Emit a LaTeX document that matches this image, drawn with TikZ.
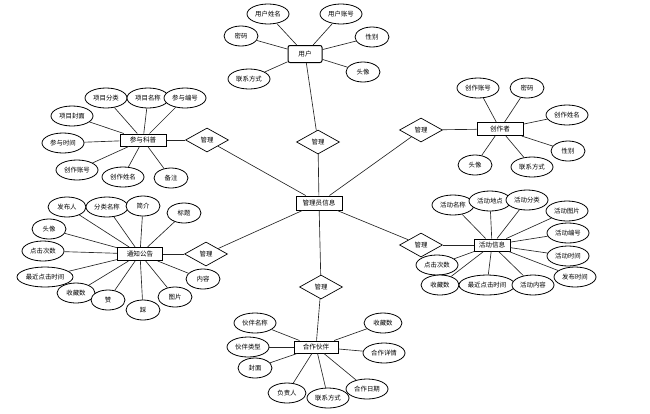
\documentclass[tikz,border=0pt]{standalone}
\usepackage{fontspec}
\setmainfont{Noto Sans CJK SC}
\usetikzlibrary{shapes.geometric}
\tikzset{
  attr/.style={ellipse,draw=black,line width=0.8pt,fill=white,minimum width=42pt,minimum height=20pt,inner sep=0pt,font=\fontsize{6.4}{7}\selectfont},
  shortattr/.style={attr,minimum width=34pt},
  midattr/.style={attr,minimum width=38pt},
  longattr/.style={attr,minimum width=56pt},
  ent/.style={rectangle,draw=black,line width=1pt,fill=white,minimum height=13pt,minimum width=44pt,inner sep=1pt,font=\fontsize{6.6}{7}\selectfont},
  rel/.style={diamond,draw=black,line width=0.7pt,fill=white,minimum width=43pt,minimum height=24pt,inner sep=0pt,font=\fontsize{6.4}{7}\selectfont},
  link/.style={draw=black!85,line width=0.65pt}
}
\begin{document}
\begin{tikzpicture}[x=1pt,y=-1pt]
\useasboundingbox (0,0) rectangle (650,413);
% centre
\node[ent,minimum width=46pt,minimum height=14pt] (a) at (319,203) {管理员信息};
% user
\node[ent,rounded corners=2pt,minimum width=34pt,minimum height=17pt] (u) at (305,54) {用户};
\node[attr] (u1) at (268,14) {用户姓名};
\node[attr] (u2) at (341,14) {用户账号};
\node[shortattr] (u3) at (241,36) {密码};
\node[shortattr] (u4) at (372,37) {性别};
\node[attr] (u5) at (249,79) {联系方式};
\node[shortattr] (u6) at (363,72) {头像};
\node[rel] (r1) at (318,142) {管理};
% creator
\node[ent,minimum width=46pt] (c) at (500,129) {创作者};
\node[rel] (r2) at (421,130) {管理};
\node[attr] (c1) at (478,88) {创作账号};
\node[shortattr] (c2) at (527,88) {密码};
\node[attr] (c3) at (567,115) {创作姓名};
\node[shortattr] (c4) at (568,151) {性别};
\node[shortattr] (c5) at (475,165) {头像};
\node[attr] (c6) at (532,167) {联系方式};
% science participation
\node[ent,minimum width=46pt,minimum height=12pt] (p) at (143,140) {参与科普};
\node[rel] (r3) at (207,140) {管理};
\node[attr] (p1) at (106,98) {项目分类};
\node[attr] (p2) at (148,98) {项目名称};
\node[attr] (p3) at (185,98) {参与编号};
\node[attr] (p4) at (72,116) {项目封面};
\node[attr] (p5) at (63,143) {参与时间};
\node[attr] (p6) at (77,170) {创作账号};
\node[attr] (p7) at (123,177) {创作姓名};
\node[shortattr] (p8) at (171,178) {备注};
% notice
\node[ent,minimum width=45pt] (n) at (140,254) {通知公告};
\node[rel] (r4) at (206,254) {管理};
\node[midattr] (n1) at (67,207) {发布人};
\node[attr] (n2) at (107,207) {分类名称};
\node[shortattr] (n3) at (143,206) {简介};
\node[shortattr] (n4) at (184,213) {标题};
\node[shortattr] (n5) at (49,229) {头像};
\node[attr] (n6) at (43,251) {点击次数};
\node[longattr] (n7) at (45,277) {最近点击时间};
\node[midattr] (n8) at (76,293) {收藏数};
\node[shortattr] (n9) at (108,300) {赞};
\node[shortattr] (n10) at (143,310) {踩};
\node[shortattr] (n11) at (175,297) {图片};
\node[shortattr] (n12) at (203,279) {内容};
% activity
\node[ent,minimum width=36pt,minimum height=12pt] (h) at (492,245) {活动信息};
\node[rel] (r5) at (421,245) {管理};
\node[attr] (h1) at (453,205) {活动名称};
\node[attr] (h2) at (490,201) {活动地点};
\node[attr] (h3) at (527,200) {活动分类};
\node[attr] (h4) at (567,211) {活动图片};
\node[attr] (h5) at (568,233) {活动编号};
\node[attr] (h6) at (568,256) {活动时间};
\node[attr] (h7) at (575,277) {发布时间};
\node[attr] (h8) at (437,265) {点击次数};
\node[midattr] (h9) at (440,285) {收藏数};
\node[longattr] (h10) at (487,285) {最近点击时间};
\node[attr] (h11) at (533,285) {活动内容};
% partner
\node[ent,minimum width=44pt,minimum height=12pt] (q) at (316,347) {合作伙伴};
\node[rel] (r6) at (321,287) {管理};
\node[attr] (q1) at (255,323) {伙伴名称};
\node[attr] (q2) at (248,347) {伙伴类型};
\node[shortattr] (q3) at (255,368) {封面};
\node[midattr] (q4) at (287,393) {负责人};
\node[attr] (q5) at (328,398) {联系方式};
\node[attr] (q6) at (367,389) {合作日期};
\node[midattr] (q7) at (383,323) {收藏数};
\node[attr] (q8) at (384,353) {合作详情};
% ---------- connectors ----------
\foreach \e/\t in {u/u1,u/u2,u/u3,u/u4,u/u5,u/u6,u/r1,r1/a,
  c/c1,c/c2,c/c3,c/c4,c/c5,c/c6,c/r2,r2/a,
  p/p1,p/p2,p/p3,p/p4,p/p5,p/p6,p/p7,p/p8,p/r3,r3/a,
  n/n1,n/n2,n/n3,n/n4,n/n5,n/n6,n/n7,n/n8,n/n9,n/n10,n/n11,n/n12,n/r4,r4/a,
  h/h1,h/h2,h/h3,h/h4,h/h5,h/h6,h/h7,h/h8,h/h9,h/h10,h/h11,h/r5,r5/a,
  q/q1,q/q2,q/q3,q/q4,q/q5,q/q6,q/q7,q/q8,q/r6,r6/a}
  \draw[link] (\e) -- (\t);
\end{tikzpicture}
\end{document}
